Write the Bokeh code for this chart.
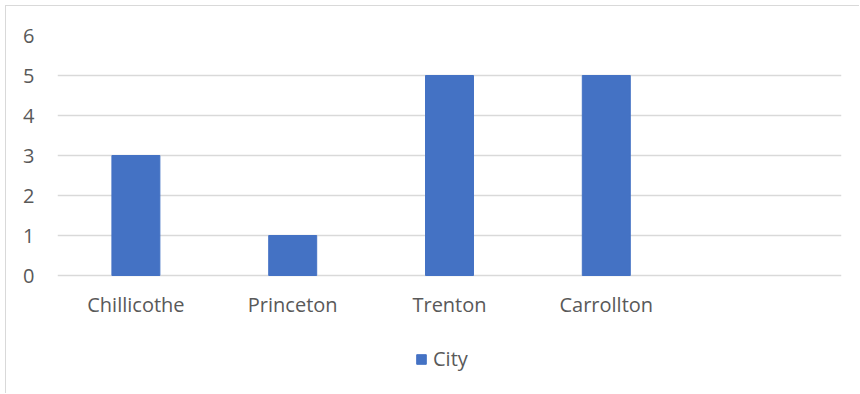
from bokeh.plotting import figure
from bokeh.models import FactorRange, Range1d, Legend, LegendItem, ColumnDataSource, FixedTicker
from bokeh.embed import file_html
from bokeh.resources import INLINE

cities = ["Chillicothe", "Princeton", "Trenton", "Carrollton"]
counts = [3, 1, 5, 5]
all_factors = cities + [" "]
y_ticks = [0, 1, 2, 3, 4, 5, 6]
series_name = "City"

FONT = "Open Sans"
TXT = "#595959"
GRID = "#d9d9d9"
BAR = "#4472c4"

src = ColumnDataSource(dict(x=cities, top=counts))

p = figure(width=854, height=388, x_range=FactorRange(factors=all_factors, range_padding=0),
           y_range=Range1d(-2.975, 6), output_backend="svg", toolbar_location=None,
           min_border_left=51, min_border_top=29, min_border_right=19, min_border_bottom=0)
p.styles = {"margin-left": "5px", "margin-top": "5px",
            "border-left": "1px solid #d9d9d9", "border-top": "1px solid #d9d9d9"}
p.outline_line_color = None
p.background_fill_color = "white"
p.border_fill_color = "white"

r = p.vbar(x="x", top="top", width=0.306, source=src, color=BAR)

p.xgrid.grid_line_color = None
p.ygrid.grid_line_color = GRID
p.ygrid.grid_line_width = 1.3
p.yaxis.ticker = FixedTicker(ticks=y_ticks)
p.ygrid.ticker = FixedTicker(ticks=y_ticks)
p.xaxis.fixed_location = 0

for ax in (p.xaxis[0], p.yaxis[0]):
    ax.axis_line_color = None
    ax.major_tick_line_color = None
    ax.minor_tick_line_color = None
    ax.major_label_text_font = FONT
    ax.major_label_text_color = TXT
    ax.major_label_text_font_size = "20px"
p.xaxis.major_label_standoff = 9
p.yaxis.major_label_standoff = 17

legend = Legend(items=[LegendItem(label=series_name, renderers=[r])],
                location=(358, 22), orientation="horizontal",
                padding=0, margin=0, spacing=0, glyph_width=12, glyph_height=12,
                label_standoff=6, label_text_font=FONT, label_text_color=TXT,
                label_text_font_size="20px", border_line_color=None,
                background_fill_alpha=0)
p.add_layout(legend, "center")

open("out.html", "w").write(file_html(p, INLINE))
